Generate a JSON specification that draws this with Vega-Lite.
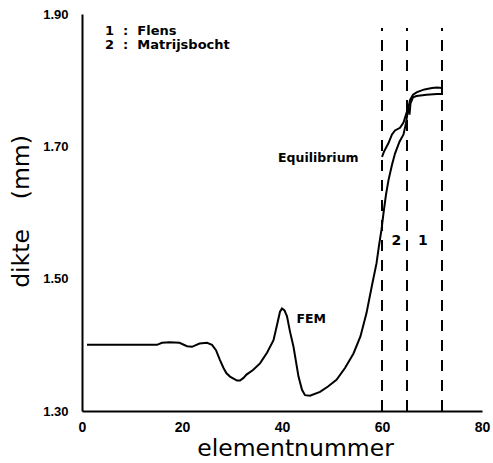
{
  "$schema": "https://vega.github.io/schema/vega-lite/v6.json",
  "autosize": {"type": "none"},
  "padding": {"left": 82, "top": 14, "right": 11, "bottom": 52},
  "width": 400,
  "height": 397,
  "background": "white",
  "config": {
    "view": {"stroke": null},
    "axis": {
      "grid": false,
      "ticks": false,
      "domainColor": "black",
      "domainWidth": 2,
      "labelColor": "black",
      "labelFont": "Liberation Sans",
      "labelFontWeight": "bold",
      "titleColor": "black",
      "titleFont": "DejaVu Sans",
      "titleFontWeight": "normal",
      "titleFontSize": 23.5
    }
  },
  "datasets": {
    "curves": [
      {"series": "FEM", "i": 1, "x": 1, "y": 1.400},
      {"series": "FEM", "i": 2, "x": 5, "y": 1.400},
      {"series": "FEM", "i": 3, "x": 10, "y": 1.400},
      {"series": "FEM", "i": 4, "x": 15, "y": 1.400},
      {"series": "FEM", "i": 5, "x": 16, "y": 1.403},
      {"series": "FEM", "i": 6, "x": 17.5, "y": 1.404},
      {"series": "FEM", "i": 7, "x": 19.5, "y": 1.403},
      {"series": "FEM", "i": 8, "x": 21, "y": 1.398},
      {"series": "FEM", "i": 9, "x": 22, "y": 1.397},
      {"series": "FEM", "i": 10, "x": 23.5, "y": 1.402},
      {"series": "FEM", "i": 11, "x": 25, "y": 1.403},
      {"series": "FEM", "i": 12, "x": 26, "y": 1.400},
      {"series": "FEM", "i": 13, "x": 26.8, "y": 1.392},
      {"series": "FEM", "i": 14, "x": 27.6, "y": 1.377},
      {"series": "FEM", "i": 15, "x": 28.3, "y": 1.365},
      {"series": "FEM", "i": 16, "x": 28.9, "y": 1.357},
      {"series": "FEM", "i": 17, "x": 29.6, "y": 1.352},
      {"series": "FEM", "i": 18, "x": 30.3, "y": 1.349},
      {"series": "FEM", "i": 19, "x": 31.0, "y": 1.346},
      {"series": "FEM", "i": 20, "x": 31.6, "y": 1.346},
      {"series": "FEM", "i": 21, "x": 32.3, "y": 1.350},
      {"series": "FEM", "i": 22, "x": 32.9, "y": 1.355},
      {"series": "FEM", "i": 23, "x": 34.2, "y": 1.362},
      {"series": "FEM", "i": 24, "x": 35.6, "y": 1.372},
      {"series": "FEM", "i": 25, "x": 37.0, "y": 1.388},
      {"series": "FEM", "i": 26, "x": 38.3, "y": 1.407},
      {"series": "FEM", "i": 27, "x": 39.0, "y": 1.430},
      {"series": "FEM", "i": 28, "x": 39.6, "y": 1.450},
      {"series": "FEM", "i": 29, "x": 40.0, "y": 1.455},
      {"series": "FEM", "i": 30, "x": 40.5, "y": 1.452},
      {"series": "FEM", "i": 31, "x": 41.0, "y": 1.443},
      {"series": "FEM", "i": 32, "x": 41.6, "y": 1.420},
      {"series": "FEM", "i": 33, "x": 42.3, "y": 1.397},
      {"series": "FEM", "i": 34, "x": 43.3, "y": 1.352},
      {"series": "FEM", "i": 35, "x": 44.0, "y": 1.332},
      {"series": "FEM", "i": 36, "x": 44.6, "y": 1.324},
      {"series": "FEM", "i": 37, "x": 45.6, "y": 1.323},
      {"series": "FEM", "i": 38, "x": 47.6, "y": 1.329},
      {"series": "FEM", "i": 39, "x": 49.2, "y": 1.337},
      {"series": "FEM", "i": 40, "x": 50.9, "y": 1.347},
      {"series": "FEM", "i": 41, "x": 52.6, "y": 1.365},
      {"series": "FEM", "i": 42, "x": 54.3, "y": 1.387},
      {"series": "FEM", "i": 43, "x": 55.7, "y": 1.413},
      {"series": "FEM", "i": 44, "x": 56.9, "y": 1.448},
      {"series": "FEM", "i": 45, "x": 58.0, "y": 1.490},
      {"series": "FEM", "i": 46, "x": 58.9, "y": 1.523},
      {"series": "FEM", "i": 47, "x": 59.4, "y": 1.550},
      {"series": "FEM", "i": 48, "x": 59.9, "y": 1.574},
      {"series": "FEM", "i": 49, "x": 60.3, "y": 1.599},
      {"series": "FEM", "i": 50, "x": 60.8, "y": 1.627},
      {"series": "FEM", "i": 51, "x": 61.3, "y": 1.649},
      {"series": "FEM", "i": 52, "x": 62.0, "y": 1.672},
      {"series": "FEM", "i": 53, "x": 62.6, "y": 1.689},
      {"series": "FEM", "i": 54, "x": 63.5, "y": 1.707},
      {"series": "FEM", "i": 55, "x": 64.3, "y": 1.718},
      {"series": "FEM", "i": 56, "x": 64.8, "y": 1.735},
      {"series": "FEM", "i": 57, "x": 65.2, "y": 1.755},
      {"series": "FEM", "i": 58, "x": 65.6, "y": 1.770},
      {"series": "FEM", "i": 59, "x": 66.2, "y": 1.778},
      {"series": "FEM", "i": 60, "x": 67.0, "y": 1.782},
      {"series": "FEM", "i": 61, "x": 68.5, "y": 1.786},
      {"series": "FEM", "i": 62, "x": 70.0, "y": 1.788},
      {"series": "FEM", "i": 63, "x": 71.0, "y": 1.789},
      {"series": "FEM", "i": 64, "x": 72.0, "y": 1.788},
      {"series": "Equilibrium", "i": 1, "x": 60.0, "y": 1.684},
      {"series": "Equilibrium", "i": 2, "x": 60.4, "y": 1.692},
      {"series": "Equilibrium", "i": 3, "x": 61.3, "y": 1.705},
      {"series": "Equilibrium", "i": 4, "x": 62.0, "y": 1.718},
      {"series": "Equilibrium", "i": 5, "x": 62.6, "y": 1.724},
      {"series": "Equilibrium", "i": 6, "x": 63.6, "y": 1.728},
      {"series": "Equilibrium", "i": 7, "x": 64.3, "y": 1.736},
      {"series": "Equilibrium", "i": 8, "x": 64.8, "y": 1.748},
      {"series": "Equilibrium", "i": 9, "x": 65.2, "y": 1.758},
      {"series": "Equilibrium", "i": 10, "x": 65.5, "y": 1.748},
      {"series": "Equilibrium", "i": 11, "x": 65.7, "y": 1.765},
      {"series": "Equilibrium", "i": 12, "x": 66.2, "y": 1.774},
      {"series": "Equilibrium", "i": 13, "x": 66.9, "y": 1.776},
      {"series": "Equilibrium", "i": 14, "x": 68.9, "y": 1.778},
      {"series": "Equilibrium", "i": 15, "x": 71.0, "y": 1.779},
      {"series": "Equilibrium", "i": 16, "x": 72.0, "y": 1.779},
      {"series": "Equilibrium", "i": 17, "x": 72.0, "y": 1.788}
    ],
    "zones": [
      {"x": 60, "y": 1.30, "y2": 1.879},
      {"x": 65, "y": 1.30, "y2": 1.879},
      {"x": 72, "y": 1.30, "y2": 1.879}
    ],
    "xticks": [
      {"x": 0},{"x": 2},{"x": 4},{"x": 6},{"x": 8},{"x": 10},{"x": 12},{"x": 14},{"x": 16},{"x": 18},
      {"x": 20},{"x": 22},{"x": 24},{"x": 26},{"x": 28},{"x": 30},{"x": 32},{"x": 34},{"x": 36},{"x": 38},
      {"x": 40},{"x": 42},{"x": 44},{"x": 46},{"x": 48},{"x": 50},{"x": 52},{"x": 54},{"x": 56},{"x": 58},
      {"x": 60},{"x": 62},{"x": 64},{"x": 66},{"x": 68},{"x": 70},{"x": 72},{"x": 74},{"x": 76},{"x": 78},{"x": 80}
    ],
    "yticks": [
      {"y": 1.30},{"y": 1.32},{"y": 1.34},{"y": 1.36},{"y": 1.38},{"y": 1.40},{"y": 1.42},{"y": 1.44},
      {"y": 1.46},{"y": 1.48},{"y": 1.50},{"y": 1.52},{"y": 1.54},{"y": 1.56},{"y": 1.58},{"y": 1.60},
      {"y": 1.62},{"y": 1.64},{"y": 1.66},{"y": 1.68},{"y": 1.70},{"y": 1.72},{"y": 1.74},{"y": 1.76},
      {"y": 1.78},{"y": 1.80},{"y": 1.82},{"y": 1.84},{"y": 1.86},{"y": 1.88},{"y": 1.90}
    ],
    "legendText": [
      {"x": 4.6, "y": 1.868, "text": "1\u00a0\u00a0:\u00a0\u00a0Flens"},
      {"x": 4.6, "y": 1.847, "text": "2\u00a0\u00a0:\u00a0\u00a0Matrijsbocht"}
    ],
    "curveText": [
      {"x": 39.2, "y": 1.676, "text": "Equilibrium"},
      {"x": 42.9, "y": 1.433, "text": "FEM"}
    ],
    "zoneText": [
      {"x": 61.9, "y": 1.551, "text": "2"},
      {"x": 67.2, "y": 1.551, "text": "1"}
    ]
  },
  "encoding": {
    "x": {
      "field": "x", "type": "quantitative",
      "scale": {"domain": [0, 80], "nice": false, "zero": false},
      "axis": {
        "title": "elementnummer",
        "values": [0, 20, 40, 60, 80],
        "format": "d",
        "labelFontSize": 14,
        "ticks": false,
        "labelPadding": 9,
        "labelFlush": false,
        "labelOverlap": false,
        "titleX": 213,
        "titleY": 44,
        "titleAlign": "center",
        "titleBaseline": "alphabetic"
      }
    },
    "y": {
      "field": "y", "type": "quantitative",
      "scale": {"domain": [1.30, 1.90], "nice": false, "zero": false},
      "axis": {
        "title": "dikte\u00a0\u00a0\u00a0\u00a0(mm)",
        "values": [1.30, 1.50, 1.70, 1.90],
        "format": ".2f",
        "labelFontSize": 13,
        "ticks": false,
        "labelPadding": 14,
        "labelFlush": false,
        "labelOverlap": false,
        "titleAngle": -90,
        "titleX": -54,
        "titleY": 197,
        "titleAlign": "center",
        "titleBaseline": "alphabetic"
      }
    }
  },
  "layer": [
    {
      "data": {"name": "zones"},
      "mark": {"type": "rule", "color": "black", "strokeWidth": 2, "strokeDash": [11, 9]},
      "encoding": {"y2": {"field": "y2"}}
    },
    {
      "data": {"name": "xticks"},
      "mark": {"type": "tick", "orient": "vertical", "size": 5, "thickness": 1.5, "color": "black", "opacity": 1, "yOffset": 3.5},
      "encoding": {"y": {"datum": 1.30}}
    },
    {
      "data": {"name": "yticks"},
      "mark": {"type": "tick", "orient": "horizontal", "size": 5, "thickness": 1.5, "color": "black", "opacity": 1, "xOffset": -3.5},
      "encoding": {"x": {"datum": 0}}
    },
    {
      "data": {"name": "curves"},
      "mark": {"type": "line", "color": "black", "strokeWidth": 2, "interpolate": "linear"},
      "encoding": {
        "detail": {"field": "series"},
        "order": {"field": "i", "type": "quantitative"}
      }
    },
    {
      "data": {"name": "legendText"},
      "mark": {"type": "text", "align": "left", "baseline": "alphabetic", "font": "DejaVu Sans", "fontWeight": "bold", "fontSize": 13, "color": "black"},
      "encoding": {"text": {"field": "text"}}
    },
    {
      "data": {"name": "curveText"},
      "mark": {"type": "text", "align": "left", "baseline": "alphabetic", "font": "DejaVu Sans", "fontWeight": "bold", "fontSize": 12.5, "color": "black"},
      "encoding": {"text": {"field": "text"}}
    },
    {
      "data": {"name": "zoneText"},
      "mark": {"type": "text", "align": "left", "baseline": "alphabetic", "font": "DejaVu Sans", "fontWeight": "bold", "fontSize": 14, "color": "black"},
      "encoding": {"text": {"field": "text"}}
    }
  ]
}
